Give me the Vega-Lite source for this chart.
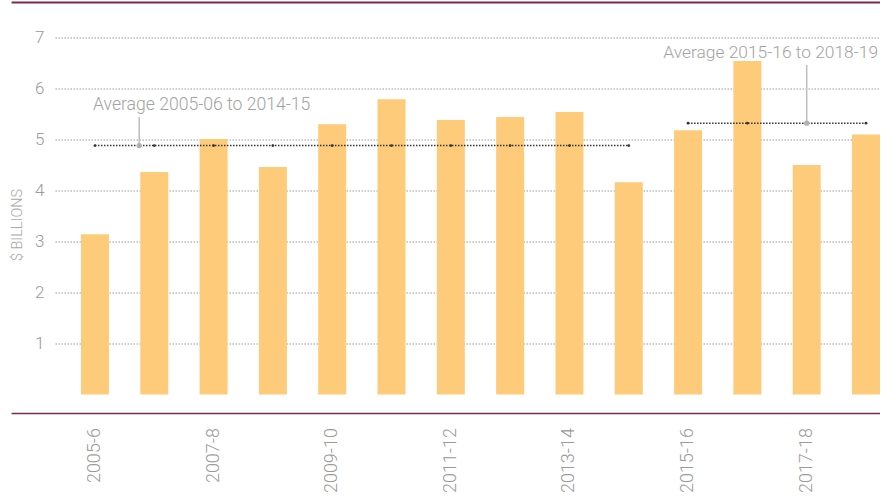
{
  "$schema": "https://vega.github.io/schema/vega-lite/v6.json",
  "width": 825,
  "height": 411,
  "autosize": "none",
  "padding": {"left": 55, "top": 2.5, "right": 12, "bottom": 82.5},
  "background": "#ffffff",
  "config": {"view": {"stroke": null}, "font": "Roboto"},
  "datasets": {
    "bars": [
      {"year": "2005-6", "value": 3.14, "period": "2005-06 to 2014-15", "avg": 4.88},
      {"year": "2006-7", "value": 4.36, "period": "2005-06 to 2014-15", "avg": 4.88},
      {"year": "2007-8", "value": 5.01, "period": "2005-06 to 2014-15", "avg": 4.88},
      {"year": "2008-9", "value": 4.46, "period": "2005-06 to 2014-15", "avg": 4.88},
      {"year": "2009-10", "value": 5.30, "period": "2005-06 to 2014-15", "avg": 4.88},
      {"year": "2010-11", "value": 5.79, "period": "2005-06 to 2014-15", "avg": 4.88},
      {"year": "2011-12", "value": 5.38, "period": "2005-06 to 2014-15", "avg": 4.88},
      {"year": "2012-13", "value": 5.44, "period": "2005-06 to 2014-15", "avg": 4.88},
      {"year": "2013-14", "value": 5.54, "period": "2005-06 to 2014-15", "avg": 4.88},
      {"year": "2014-15", "value": 4.16, "period": "2005-06 to 2014-15", "avg": 4.88},
      {"year": "2015-16", "value": 5.18, "period": "2015-16 to 2018-19", "avg": 5.32},
      {"year": "2016-17", "value": 6.54, "period": "2015-16 to 2018-19", "avg": 5.32},
      {"year": "2017-18", "value": 4.50, "period": "2015-16 to 2018-19", "avg": 5.32},
      {"year": "2018-19", "value": 5.10, "period": "2015-16 to 2018-19", "avg": 5.32}
    ],
    "notes": [
      {"id": 1, "note": "Average 2005-06 to 2014-15", "textYear": "2005-6", "textY": 5.57, "lineYear": "2005-6", "lineTop": 5.44, "avg": 4.88},
      {"id": 2, "note": "Average 2015-16 to 2018-19", "textYear": "2018-19", "textY": 6.59, "lineYear": "2017-18", "lineTop": 6.46, "avg": 5.32}
    ],
    "frame": [
      {"edge": "top", "level": 7.686, "from": 0, "to": 1},
      {"edge": "bottom", "level": -0.373, "from": 0, "to": 1}
    ]
  },
  "data": {"name": "bars"},
  "resolve": {"scale": {"x": "independent"}, "axis": {"x": "independent"}},
  "layer": [
    {
      "layer": [
        {
          "mark": {"type": "bar", "color": "#FDCB7A"},
          "encoding": {
            "x": {
              "field": "year",
              "type": "ordinal",
              "sort": null,
              "scale": {
                "domain": ["2005-6", "2006-7", "2007-8", "2008-9", "2009-10", "2010-11", "2011-12", "2012-13", "2013-14", "2014-15", "2015-16", "2016-17", "2017-18", "2018-19"],
                "paddingInner": 0.528,
                "paddingOuter": 0.219,
                "align": 1
              },
              "axis": {
                "title": null,
                "values": ["2005-6", "2007-8", "2009-10", "2011-12", "2013-14", "2015-16", "2017-18"],
                "labelAngle": 270,
                "ticks": false,
                "grid": false,
                "domain": false,
                "labelPadding": 14,
                "labelFontSize": 18,
                "labelFontWeight": 300,
                "labelColor": "#9a9a9a"
              }
            },
            "y": {
              "field": "value",
              "type": "quantitative",
              "scale": {"domain": [-0.373, 7.686], "nice": false, "zero": false},
              "axis": {
                "title": "$ BILLIONS",
                "values": [1, 2, 3, 4, 5, 6, 7],
                "ticks": false,
                "domain": false,
                "grid": true,
                "gridColor": "#999999",
                "gridDash": [1.5, 1.5],
                "gridWidth": 1.2,
                "labelPadding": 11,
                "labelFontSize": 17,
                "labelFontWeight": 300,
                "labelColor": "#9a9a9a",
                "titleFontSize": 14.5,
                "titleFontWeight": 300,
                "titleColor": "#a8a8a8",
                "titleAngle": 270,
                "titleAlign": "center",
                "titleBaseline": "middle",
                "titleX": -38,
                "titleY": 222
              }
            },
            "y2": {"datum": 0}
          }
        },
        {
          "mark": {
            "type": "line",
            "color": "#333333",
            "strokeWidth": 1.5,
            "strokeDash": [1.5, 1.5],
            "point": {"filled": true, "size": 8, "color": "#333333"}
          },
          "encoding": {
            "x": {"field": "year", "type": "ordinal", "sort": null},
            "y": {"field": "avg", "type": "quantitative"},
            "detail": {"field": "period"}
          }
        },
        {
          "data": {"name": "notes"},
          "transform": [{"filter": "datum.id == 1"}],
          "layer": [
            {
              "mark": {"type": "rule", "color": "#bdbdbd", "strokeWidth": 1.5},
              "encoding": {
                "x": {"field": "lineYear", "type": "ordinal", "bandPosition": 2.08},
                "y": {"field": "lineTop", "type": "quantitative"},
                "y2": {"field": "avg"}
              }
            },
            {
              "mark": {"type": "point", "filled": true, "size": 28, "color": "#b0b0b0", "opacity": 1},
              "encoding": {
                "x": {"field": "lineYear", "type": "ordinal", "bandPosition": 2.08},
                "y": {"field": "avg", "type": "quantitative"}
              }
            },
            {
              "mark": {"type": "text", "align": "left", "baseline": "alphabetic", "fontSize": 17.6, "fontWeight": 300, "color": "#a3a3a3"},
              "encoding": {
                "x": {"field": "textYear", "type": "ordinal", "bandPosition": 0.43},
                "y": {"field": "textY", "type": "quantitative"},
                "text": {"field": "note"}
              }
            }
          ]
        },
        {
          "data": {"name": "notes"},
          "transform": [{"filter": "datum.id == 2"}],
          "layer": [
            {
              "mark": {"type": "rule", "color": "#bdbdbd", "strokeWidth": 1.5},
              "encoding": {
                "x": {"field": "lineYear", "type": "ordinal", "bandPosition": 0.5},
                "y": {"field": "lineTop", "type": "quantitative"},
                "y2": {"field": "avg"}
              }
            },
            {
              "mark": {"type": "point", "filled": true, "size": 28, "color": "#b0b0b0", "opacity": 1},
              "encoding": {
                "x": {"field": "lineYear", "type": "ordinal", "bandPosition": 0.5},
                "y": {"field": "avg", "type": "quantitative"}
              }
            },
            {
              "mark": {"type": "text", "align": "right", "baseline": "alphabetic", "fontSize": 17.4, "fontWeight": 300, "color": "#a3a3a3"},
              "encoding": {
                "x": {"field": "textYear", "type": "ordinal", "bandPosition": 0.93},
                "y": {"field": "textY", "type": "quantitative"},
                "text": {"field": "note"}
              }
            }
          ]
        }
      ]
    },
    {
      "data": {"name": "frame"},
      "mark": {"type": "rule", "color": "#7B2A4B"},
      "encoding": {
        "x": {"field": "from", "type": "quantitative", "scale": {"domain": [0.05, 1], "nice": false, "zero": false}, "axis": null},
        "x2": {"field": "to"},
        "y": {"field": "level", "type": "quantitative"},
        "strokeWidth": {"field": "edge", "type": "nominal", "scale": {"domain": ["top", "bottom"], "range": [2, 1.5]}, "legend": null}
      }
    }
  ]
}
